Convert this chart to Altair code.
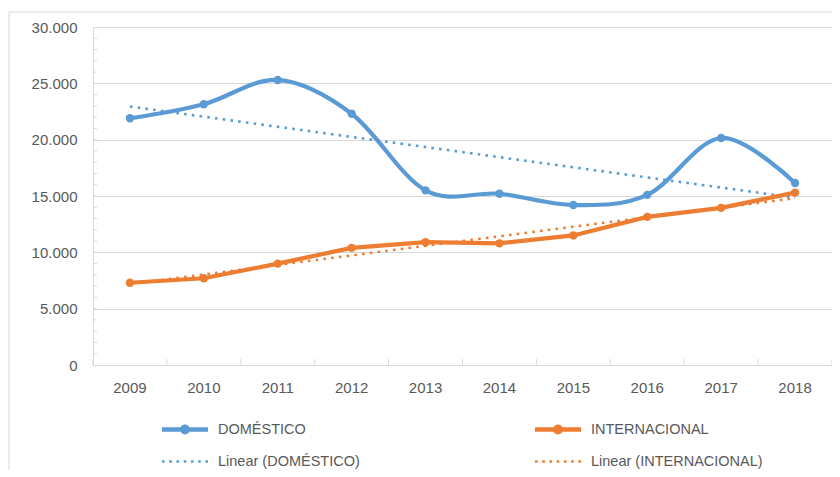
import altair as alt
import pandas as pd

years = [2009, 2010, 2011, 2012, 2013, 2014, 2015, 2016, 2017, 2018]
domestico = [21900, 23150, 25300, 22300, 15500, 15200, 14200, 15100, 20150, 16150]
internacional = [7300, 7700, 9000, 10400, 10900, 10800, 11500, 13150, 13950, 15300]
series_names = ["DOMÉSTICO", "INTERNACIONAL"]
legend_names = ["DOMÉSTICO", "Linear (DOMÉSTICO)", "INTERNACIONAL", "Linear (INTERNACIONAL)"]
y_ticks = [0, 5000, 10000, 15000, 20000, 25000, 30000]

BLUE = "#5B9BD5"
ORANGE = "#ED7D31"
GRID = "#d9d9d9"
TEXT = "#595959"
FONT = "Liberation Sans"

df = pd.DataFrame({
    "year": years * 2,
    "value": domestico + internacional,
    "series": [series_names[0]] * len(years) + [series_names[1]] * len(years),
})

W, H = 739, 338

xscale = alt.Scale(type="band", domain=years, paddingInner=0, paddingOuter=0)
yscale = alt.Scale(domain=[0, 30000], nice=False)

x_axis = alt.Axis(title=None, labelAngle=0, ticks=False, labelPadding=15, bandPosition=0.5,
                  labelAlign="center", grid=False, domainColor=GRID)
x_enc = alt.X("year:O", scale=xscale, bandPosition=0.5, axis=x_axis)
y_enc = alt.Y("value:Q", scale=yscale,
              axis=alt.Axis(title=None, values=y_ticks, ticks=False, labelPadding=16,
                            labelExpr="replace(format(datum.value, ',d'), /,/g, '.')",
                            grid=True, gridColor=GRID, domainColor=GRID))

base = alt.Chart(df)

def ser(name):
    return base.transform_filter(alt.datum.series == name)

# trendlines (computed by regression transform)
trend_dom = ser(series_names[0]).transform_regression("year", "value").mark_line(
    color=BLUE, strokeWidth=2.6, strokeDash=[2.6, 5.2]).encode(x=x_enc, y=y_enc)
trend_int = ser(series_names[1]).transform_regression("year", "value").mark_line(
    color=ORANGE, strokeWidth=2.6, strokeDash=[2.6, 5.2]).encode(x=x_enc, y=y_enc)

line_dom = ser(series_names[0]).mark_line(color=BLUE, strokeWidth=4.2,
                                          interpolate="cardinal").encode(x=x_enc, y=y_enc)
line_int = ser(series_names[1]).mark_line(color=ORANGE, strokeWidth=4.2).encode(x=x_enc, y=y_enc)
pts_dom = ser(series_names[0]).mark_point(filled=True, color=BLUE, size=70, opacity=1).encode(x=x_enc, y=y_enc)
pts_int = ser(series_names[1]).mark_point(filled=True, color=ORANGE, size=70, opacity=1).encode(x=x_enc, y=y_enc)

# x tick marks between categories (inside)
xticks = alt.Chart(pd.DataFrame({"year": years})).mark_rule(color=GRID, strokeWidth=1).encode(
    x=alt.X("year:O", scale=xscale, bandPosition=0, axis=x_axis), y=alt.value(H - 6), y2=alt.value(H))
xtick_end = alt.Chart(pd.DataFrame({"year": years[-1:]})).mark_rule(color=GRID, strokeWidth=1).encode(
    x=alt.X("year:O", scale=xscale, bandPosition=1, axis=x_axis), y=alt.value(H - 6), y2=alt.value(H))

# minor y ticks (inside)
yminor = alt.Chart(alt.sequence(1000, 30000, 1000, as_="v")).mark_rule(color=GRID, strokeWidth=1).encode(
    y=alt.Y("v:Q", scale=yscale), x=alt.value(0), x2=alt.value(4))

# legend symbols
u = 0.23
dots = "".join(f"M{-1 + k * (4 - u) / 6:.3f},{-u / 2:.3f}h{u}v{u}h{-u}Z" for k in range(7))
solid = "M-1,-0.19L3,-0.19L3,0.19L-1,0.19Z M1.43,0A0.43,0.43 0 1 1 0.57,0A0.43,0.43 0 1 1 1.43,0Z"
shapes = [solid, dots, solid, dots]
leg = alt.Legend(title=None, orient="none", legendX=69, legendY=391, columns=2,
                 columnPadding=175, rowPadding=14, symbolSize=529, labelOffset=33,
                 symbolStrokeWidth=0, symbolOpacity=1, labelFont=FONT, labelFontSize=14.5,
                 labelColor=TEXT, padding=0, labelLimit=300)
legend_layer = base.transform_filter("datum.value < 0").mark_point(filled=True, opacity=1).encode(
    color=alt.Color("series:N", scale=alt.Scale(domain=legend_names, range=[BLUE, BLUE, ORANGE, ORANGE]), legend=leg),
    shape=alt.Shape("series:N", scale=alt.Scale(domain=legend_names, range=shapes), legend=leg),
)

border = alt.Chart(pd.DataFrame({"a": [0]})).mark_rect(fill=None, stroke=GRID, strokeWidth=1).encode(
    x=alt.value(-84), x2=alt.value(780), y=alt.value(-15), y2=alt.value(520))

chart = alt.layer(
    border, trend_dom, trend_int, line_dom, line_int, pts_dom, pts_int, yminor, xticks, xtick_end, legend_layer
).properties(
    width=W, height=H,
    autosize=alt.AutoSizeParams(type="none"),
    padding={"left": 85, "top": 19, "right": 0, "bottom": 105},
).configure_view(stroke=None).configure_axis(
    labelFont=FONT, labelFontSize=15, labelColor=TEXT
)

chart.save("out.html", embed_options={"renderer": "svg", "actions": False})
